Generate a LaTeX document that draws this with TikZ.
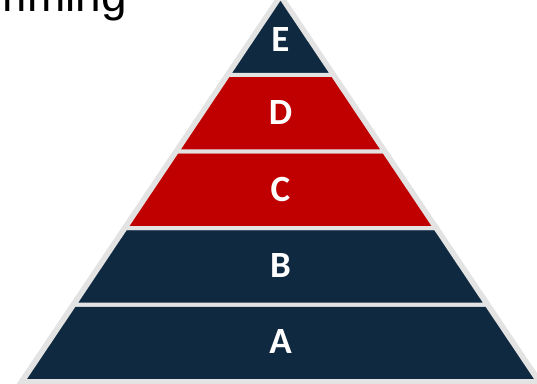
\documentclass[tikz,border=0pt]{standalone}
\usepackage{fontspec}
\setmainfont{Carlito}
\newfontfamily\headfont{Liberation Sans}
\definecolor{navy}{HTML}{0F2941}
\definecolor{tierred}{HTML}{C00000}
\definecolor{rim}{HTML}{E3E3E3}
\begin{document}
\begin{tikzpicture}[x=1pt,y=1pt,
  tier/.style={draw=rim,line width=4pt,line join=miter},
  tierlabel/.style={text=white,font=\bfseries\fontsize{37}{40}\selectfont,inner sep=0pt}]
\useasboundingbox (0,0) rectangle (537,383);
\clip (0,0) rectangle (537,383);
% heading, mostly outside the frame
\node[anchor=base east,inner sep=0pt,font=\headfont\fontsize{46}{50}\selectfont] (head) at (127,371) {Programming};
% pyramid tiers, bottom to top
\fill[rim] (280.5,392) -- (16,-2) -- (545,-2) -- cycle;
\draw[tier,fill=navy] (23.2,2) -- (537.8,2) -- (486.5,78.5) -- (74.5,78.5) -- cycle;
\draw[tier,fill=navy] (74.5,78.5) -- (486.5,78.5) -- (435.3,155) -- (125.7,155) -- cycle;
\draw[tier,fill=tierred] (125.7,155) -- (435.3,155) -- (384.0,231.5) -- (177.0,231.5) -- cycle;
\draw[tier,fill=tierred] (177.0,231.5) -- (384.0,231.5) -- (332.76,308) -- (228.24,308) -- cycle;
\draw[tier,fill=navy] (228.24,308) -- (332.76,308) -- (280.5,386) -- cycle;
% tier labels
\node[tierlabel] (la) at (280.5,41) {A};
\node[tierlabel] (lb) at (280.5,117) {B};
\node[tierlabel] (lc) at (280.5,194) {C};
\node[tierlabel] (ld) at (280.5,270) {D};
\node[tierlabel] (le) at (280.5,343) {E};
\end{tikzpicture}
\end{document}
